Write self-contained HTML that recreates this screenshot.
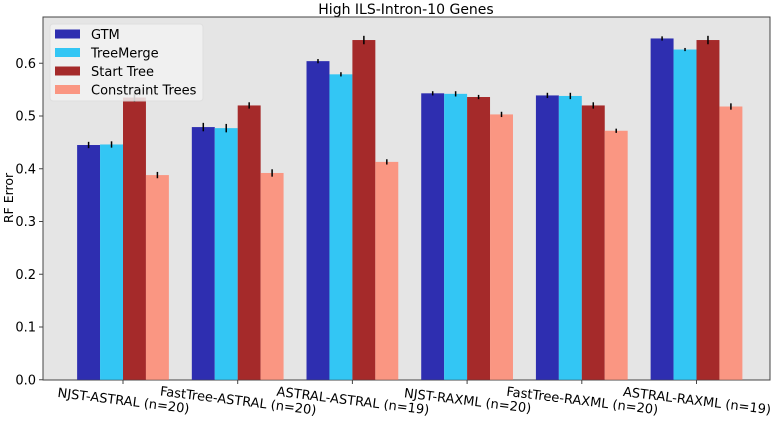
<!DOCTYPE html>
<html><head><meta charset="utf-8"><style>
body{margin:0;background:#fff;}
svg{display:block;font-family:"DejaVu Sans","Liberation Sans",sans-serif;}
</style></head><body>
<svg id="chart" width="777" height="425">
<text x="406" y="14" text-anchor="middle" font-size="14">High ILS-Intron-10 Genes</text>
<rect x="43" y="17" width="727" height="363" fill="#e5e5e5" stroke="#444" stroke-width="1"/>
<g id="bars"></g>
<g id="yaxis"></g>
<g id="xaxis"></g>
<text transform="translate(13,198) rotate(-90)" text-anchor="middle" font-size="12.5">RF Error</text>
<g id="legend"></g>
</svg>
<script>
const categories=["NJST-ASTRAL (n=20)","FastTree-ASTRAL (n=20)","ASTRAL-ASTRAL (n=19)","NJST-RAXML (n=20)","FastTree-RAXML (n=20)","ASTRAL-RAXML (n=19)"];
const seriesNames=["GTM","TreeMerge","Start Tree","Constraint Trees"];
const gtm=[0.445,0.479,0.604,0.543,0.539,0.647];
const treeMerge=[0.446,0.477,0.579,0.542,0.538,0.626];
const startTree=[0.535,0.520,0.644,0.536,0.520,0.644];
const constraintTrees=[0.388,0.392,0.413,0.503,0.472,0.518];
const errGtm=[0.006,0.008,0.004,0.004,0.005,0.004];
const errTreeMerge=[0.006,0.008,0.004,0.005,0.006,0.003];
const errStart=[0.008,0.006,0.008,0.004,0.006,0.008];
const errConstraint=[0.006,0.007,0.005,0.005,0.004,0.006];
const yTicks=[0.0,0.1,0.2,0.3,0.4,0.5,0.6];
const NS="http://www.w3.org/2000/svg";
const colors=["#2e2eb0","#33c6f4","#a52a2a","#fa9682"];
const series=[gtm,treeMerge,startTree,constraintTrees];
const errs=[errGtm,errTreeMerge,errStart,errConstraint];
const yS=v=>379.75-v*527.5;
const xS=i=>123+i*114.7;
const bw=22.94;
function el(t,a,p){const e=document.createElementNS(NS,t);for(const k in a)e.setAttribute(k,a[k]);p.appendChild(e);return e;}
const bars=document.getElementById('bars');
series.forEach((s,si)=>{s.forEach((v,i)=>{
 const x=xS(i)-2*bw+si*bw;
 const r=el('rect',{x:x,y:yS(v),width:bw,height:yS(0)-yS(v),fill:colors[si]},bars);
 
 
 const cx=x+bw/2,e=errs[si][i];
 const l=el('line',{x1:cx,x2:cx,y1:yS(v+e),y2:yS(v-e),stroke:'#000','stroke-width':1.5},bars);
 
 
});});
const ya=document.getElementById('yaxis');
yTicks.forEach(t=>{
 el('line',{x1:39,x2:43,y1:yS(t),y2:yS(t),stroke:'#444'},ya);
 const tx=el('text',{x:36,y:yS(t)+4.5,'text-anchor':'end','font-size':13},ya);
 tx.textContent=t.toFixed(1);
 
 
});
const xa=document.getElementById('xaxis');
categories.forEach((c,i)=>{
 el('line',{x1:xS(i),x2:xS(i),y1:380,y2:384,stroke:'#444'},xa);
 const tx=el('text',{transform:`translate(${xS(i)},405) rotate(7)`,'text-anchor':'middle','font-size':13},xa);
 tx.textContent=c;
 
 
});
const lg=document.getElementById('legend');
el('rect',{x:50,y:24,width:153,height:77,rx:3,fill:'#f2f2f2',opacity:0.85,stroke:'#ddd'},lg);
seriesNames.forEach((n,i)=>{
 el('rect',{x:55,y:29.5+i*18.5,width:25,height:9,fill:colors[i]},lg);
 const tx=el('text',{x:91,y:39+i*18.5,'font-size':13},lg);
 tx.textContent=n;
 
 
});
</script>
</body></html>
